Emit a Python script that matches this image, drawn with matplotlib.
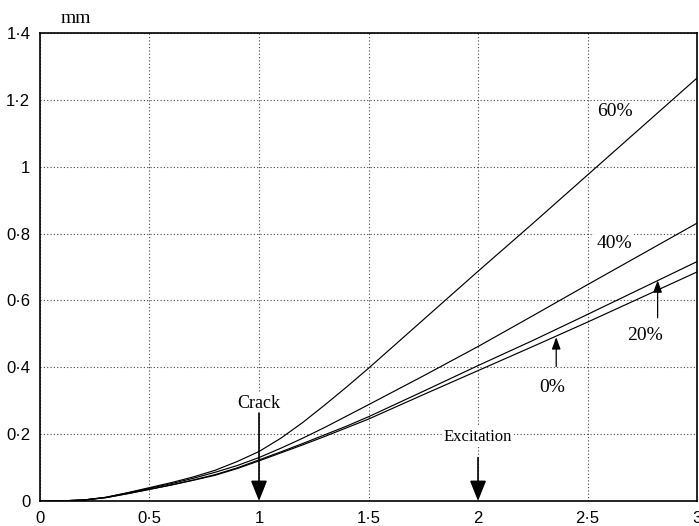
import matplotlib
matplotlib.use("Agg")
import matplotlib.pyplot as plt

# displacement (mm) vs time for the four crack depths
x = [0, 0.1, 0.2, 0.3, 0.4, 0.5, 0.6, 0.7, 0.8, 0.9, 1.0, 1.1, 1.2, 1.3, 1.4,
     1.5, 1.75, 2.0, 2.25, 2.5, 2.75, 3.0]
y_0 = [0, 0.0005, 0.003, 0.01, 0.022, 0.035, 0.048, 0.062, 0.077, 0.097, 0.12,
       0.144, 0.168, 0.193, 0.219, 0.245, 0.318, 0.39, 0.462, 0.535, 0.61, 0.685]
y_20 = [0, 0.0005, 0.003, 0.01, 0.022, 0.035, 0.048, 0.063, 0.079, 0.099, 0.123,
        0.147, 0.172, 0.198, 0.224, 0.252, 0.328, 0.405, 0.48, 0.558, 0.637, 0.716]
y_40 = [0, 0.0005, 0.003, 0.011, 0.024, 0.038, 0.052, 0.068, 0.086, 0.106, 0.13,
        0.158, 0.188, 0.22, 0.254, 0.288, 0.374, 0.462, 0.554, 0.647, 0.739, 0.831]
y_60 = [0, 0.0005, 0.003, 0.011, 0.025, 0.04, 0.055, 0.072, 0.092, 0.118, 0.148,
        0.188, 0.235, 0.287, 0.341, 0.397, 0.542, 0.687, 0.83, 0.975, 1.12, 1.265]

xticks = [0, 0.5, 1, 1.5, 2, 2.5, 3]
xtick_labels = ['0', '0·5', '1', '1·5', '2', '2·5', '3']
yticks = [0, 0.2, 0.4, 0.6, 0.8, 1.0, 1.2, 1.4]
ytick_labels = ['0', '0·2', '0·4', '0·6', '0·8', '1', '1·2', '1·4']

fig = plt.figure(figsize=(6.99, 5.26), dpi=100)
ax = fig.add_axes([0.0572, 0.0475, 0.94, 0.89])

for yy in (y_0, y_20, y_40, y_60):
    ax.plot(x, yy, color='black', lw=0.85, zorder=3)

ax.set_xlim(0, 3)
ax.set_ylim(0, 1.4)
ax.set_xticks(xticks)
ax.set_xticklabels(xtick_labels)
ax.set_yticks(yticks)
ax.set_yticklabels(ytick_labels)
ax.tick_params(length=0, labelsize=12, pad=7)
for lab in ax.get_xticklabels() + ax.get_yticklabels():
    lab.set_family('Liberation Sans')

ax.grid(True, color='#444444', lw=0.8, linestyle=(0, (1, 2)))
ax.set_axisbelow(True)
for s in ax.spines.values():
    s.set_linewidth(1.2)
    s.set_color('black')

serif = 'Liberation Serif'
box = dict(facecolor='white', edgecolor='none', pad=1.5)

# curve labels
ax.text(2.545, 1.165, '60%', family=serif, fontsize=14, va='center', ha='left', bbox=box, zorder=4)
ax.text(2.54, 0.77, '40%', family=serif, fontsize=14, va='center', ha='left', bbox=box, zorder=4)
ax.text(2.764, 0.494, '20%', family=serif, fontsize=14, va='center', ha='center', bbox=box, zorder=4)
ax.text(2.34, 0.34, '0%', family=serif, fontsize=14, va='center', ha='center', bbox=box, zorder=4)

small = dict(arrowstyle='-|>,head_length=0.6,head_width=0.22', mutation_scale=12,
             color='black', lw=0.9, shrinkA=0, shrinkB=0)
ax.annotate('', xy=(2.82, 0.66), xytext=(2.82, 0.548), arrowprops=small, zorder=4)
ax.annotate('', xy=(2.357, 0.49), xytext=(2.357, 0.402), arrowprops=small, zorder=4)

# event markers
big = dict(arrowstyle='-|>,head_length=0.5,head_width=0.2', mutation_scale=25,
           color='black', lw=1.2, shrinkA=0, shrinkB=0)
ax.text(1.0, 0.293, 'Crack', family=serif, fontsize=13, ha='center', va='center', bbox=box, zorder=4)
ax.annotate('', xy=(1.0, 0.0), xytext=(1.0, 0.263), arrowprops=big, zorder=5)
ax.text(2.0, 0.19, 'Excitation', family=serif, fontsize=12, ha='center', va='center', bbox=box, zorder=4)
ax.annotate('', xy=(2.0, 0.0), xytext=(2.0, 0.13), arrowprops=big, zorder=5)

ax.text(0.031, 1.012, 'mm', transform=ax.transAxes, family=serif, fontsize=14,
        ha='left', va='bottom')

fig.savefig('out.png', dpi=100)
